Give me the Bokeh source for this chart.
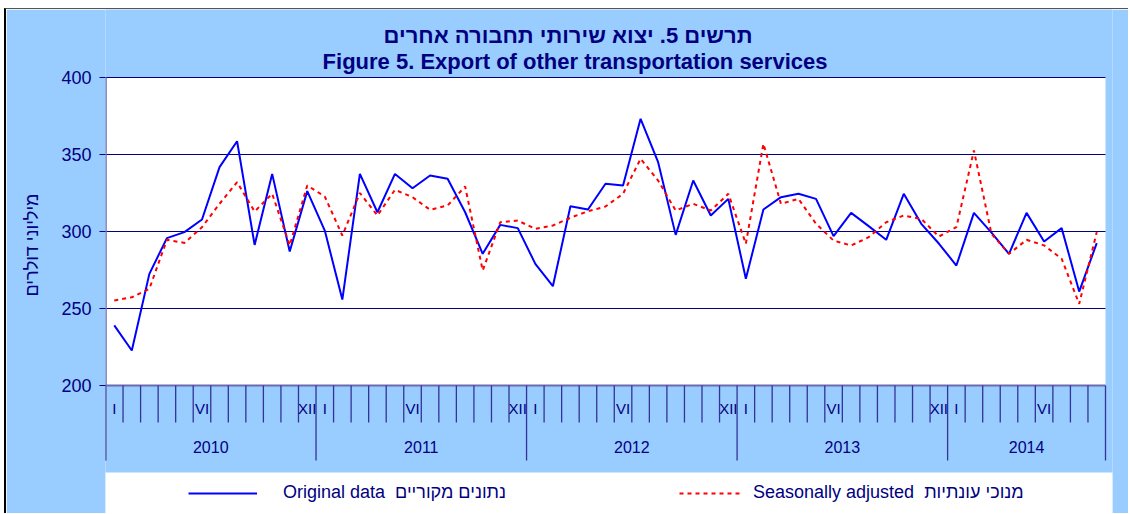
from bokeh.plotting import figure
from bokeh.models import Range1d, FixedTicker, Legend, LegendItem, Title
from bokeh.embed import file_html
from bokeh.resources import INLINE
from bokeh.core.properties import value

# ---------------- data ----------------
years = ["2010", "2011", "2012", "2013", "2014"]
month_names = ["I", "II", "III", "IV", "V", "VI", "VII", "VIII", "IX", "X", "XI", "XII"]
shown_months = ["I", "VI", "XII"]
y_ticks = [200, 250, 300, 350, 400]

original = [
    239.0, 222.7, 272.5, 295.7, 299.6, 307.8, 341.8, 358.6, 291.3, 337.4, 287.0, 326.2,   # 2010
    300.6, 255.8, 337.4, 312.5, 337.4, 328.1, 336.4, 334.2, 312.5, 285.5, 304.3, 302.2,   # 2011
    279.0, 264.5, 316.4, 314.3, 331.0, 329.9, 373.2, 345.0, 297.8, 333.1, 310.4, 321.2,   # 2012
    269.3, 314.3, 322.3, 324.5, 321.2, 297.0, 312.1, 303.5, 294.6, 324.5, 305.0, 292.2,   # 2013
    277.9, 312.1, 299.3, 285.5, 312.1, 293.5, 302.2, 261.0, 292.4,                       # 2014
]
seasonal = [
    255.2, 257.3, 262.8, 294.6, 292.6, 302.8, 318.0, 332.0, 313.0, 324.5, 291.0, 329.9,   # 2010
    322.7, 297.4, 325.0, 310.4, 327.1, 322.3, 314.1, 316.9, 329.2, 274.7, 306.0, 307.1,   # 2011
    301.7, 303.9, 308.9, 313.2, 316.2, 324.5, 347.2, 333.1, 313.6, 318.0, 313.6, 324.5,   # 2012
    292.0, 357.0, 318.0, 321.2, 305.0, 294.1, 290.9, 296.3, 306.0, 310.4, 308.2, 296.7,   # 2013
    302.8, 352.6, 298.5, 285.5, 294.6, 291.0, 282.3, 253.0, 299.6,                       # 2014
]

title_he = "תרשים 5. יצוא שירותי תחבורה אחרים"
title_en = "Figure 5. Export of other transportation services"
y_label = "מיליוני דולרים"
legend_orig = "Original data\u00a0 נתונים מקוריים"
legend_sa = "Seasonally adjusted\u00a0 מנוכי עונתיות"

# ---------------- layout / style ----------------
NAVY = "#000080"
BG = "#99CCFF"
AXIS_C = "#6b6bb3"
TICK_C = "#333399"
FONT = "Liberation Sans"

OX, OY = 6, 9                      # page offset of the figure
W, H = 1130 - OX, 514 - OY
FRAME_L, FRAME_R = 104, 1112       # page px
B_LEFT, B_RIGHT = FRAME_L - OX, (OX + W) - FRAME_R
PLOT_TOP, PLOT_BOTTOM = 77, 385    # page px of 400 and 200

n = len(original)
x = list(range(n))
px_per_month = 1001.0 / n
x_start = -0.5
x_end = x_start + (FRAME_R - FRAME_L) / px_per_month
y_lo, y_hi = min(y_ticks), max(y_ticks)
px_per_unit = (PLOT_BOTTOM - PLOT_TOP) / (y_hi - y_lo)


def sy(page_y):
    return y_hi - (page_y - PLOT_TOP) / px_per_unit


def sx(page_x):
    return x_start + (page_x - FRAME_L) / px_per_month


y_end = sy(OY)
y_start = sy(OY + H)

p = figure(width=W, height=H, x_range=Range1d(x_start, x_end), y_range=Range1d(y_start, y_end),
           min_border_left=B_LEFT, min_border_right=B_RIGHT, min_border_top=0, min_border_bottom=0,
           toolbar_location=None, output_backend="svg", x_axis_location=None,
           margin=(OY - 1, 0, 0, OX - 2))
p.styles = {"border-left": "2px solid #000000", "border-top": "1px solid #555555"}
p.background_fill_color = BG
p.border_fill_color = BG
p.outline_line_color = None
p.xgrid.visible = False
p.ygrid.visible = False

yax = p.yaxis[0]
yax.ticker = FixedTicker(ticks=y_ticks)
yax.axis_line_color = None
yax.major_tick_line_color = NAVY
yax.major_tick_out = 6
yax.major_tick_in = 0
yax.minor_tick_line_color = None
yax.major_label_standoff = 8
yax.major_label_text_font = FONT
yax.major_label_text_font_size = "18px"
yax.major_label_text_color = NAVY

# y axis title (vertical, left panel)
p.add_layout(Title(text=y_label, align="left", offset=(OY + H) - 296, vertical_align="top",
                   standoff=30, text_font=FONT, text_font_size="18px", text_font_style="normal",
                   text_color=NAVY), "left")

d0, d1 = x_start, n - 0.5

# plot area background
p.quad(left=d0, right=d1, bottom=y_lo, top=y_hi, fill_color="white", line_color=None)

# horizontal grid lines
grid_y = [t for t in y_ticks if t != y_lo]
p.segment(x0=[d0] * len(grid_y), x1=[d1] * len(grid_y), y0=grid_y, y1=grid_y, line_color=NAVY, line_width=1)
p.segment(x0=[d0], x1=[d1], y0=[y_lo], y1=[y_lo], line_color=AXIS_C, line_width=2)

# month separators and year separators
year_bounds = [12 * j - 0.5 for j in range(len(years))] + [n - 0.5]
month_bounds = [k - 0.5 for k in range(1, n) if k % 12 != 0]
p.segment(x0=month_bounds, x1=month_bounds, y0=[y_lo] * len(month_bounds),
          y1=[sy(422)] * len(month_bounds), line_color=TICK_C, line_width=1.3)
p.segment(x0=year_bounds, x1=year_bounds, y0=[y_lo] * len(year_bounds),
          y1=[sy(460)] * len(year_bounds), line_color=TICK_C, line_width=1.3)
# left axis line
p.segment(x0=[d0], x1=[d0], y0=[y_hi], y1=[sy(460)], line_color=AXIS_C, line_width=2.5)

# month labels
mx, mt = [], []
for i in range(n):
    name = month_names[i % 12]
    if name in shown_months:
        mx.append(i)
        mt.append(name)
p.text(x=mx, y=[sy(408)] * len(mx), text=mt, text_align="center", text_baseline="middle",
       text_font=value(FONT), text_font_size="15px", text_color=NAVY)

# year labels
yx = []
for j in range(len(years)):
    a = 12 * j
    b = min(12 * j + 11, n - 1)
    yx.append((a + b) / 2.0)
p.text(x=yx, y=[sy(446)] * len(yx), text=years, text_align="center", text_baseline="middle",
       text_font=value(FONT), text_font_size="16px", text_color=NAVY)

# titles
p.text(x=[sx(567), sx(574)], y=[sy(35), sy(61)], text=[title_he, title_en],
       text_align="center", text_baseline="middle", text_font=value(FONT),
       text_font_size="22px", text_font_style="bold", text_color=NAVY)

# legend box
p.quad(left=sx(103), right=x_end + 1, bottom=y_start - 5, top=sy(472),
       fill_color="white", line_color=None)

# series
r_orig = p.line(x, original, line_color="#0000FF", line_width=2)
r_sa = p.line(x, seasonal, line_color="#FF0000", line_width=2, line_dash="4 4")

for item_text, rend, gx, gw, stand in [(legend_orig, r_orig, 187, 69, 26),
                                       (legend_sa, r_sa, 678, 64, 10)]:
    lg = Legend(items=[LegendItem(label=item_text, renderers=[rend])],
                location=(gx - FRAME_L, (OY + H) - 493 - 10),
                orientation="horizontal", background_fill_alpha=0, border_line_color=None,
                padding=0, margin=0, glyph_width=gw, glyph_height=20, label_height=20,
                label_standoff=stand, label_text_font=FONT, label_text_font_size="18px",
                label_text_color=NAVY)
    p.add_layout(lg)

open("out.html", "w").write(file_html(p, INLINE))
